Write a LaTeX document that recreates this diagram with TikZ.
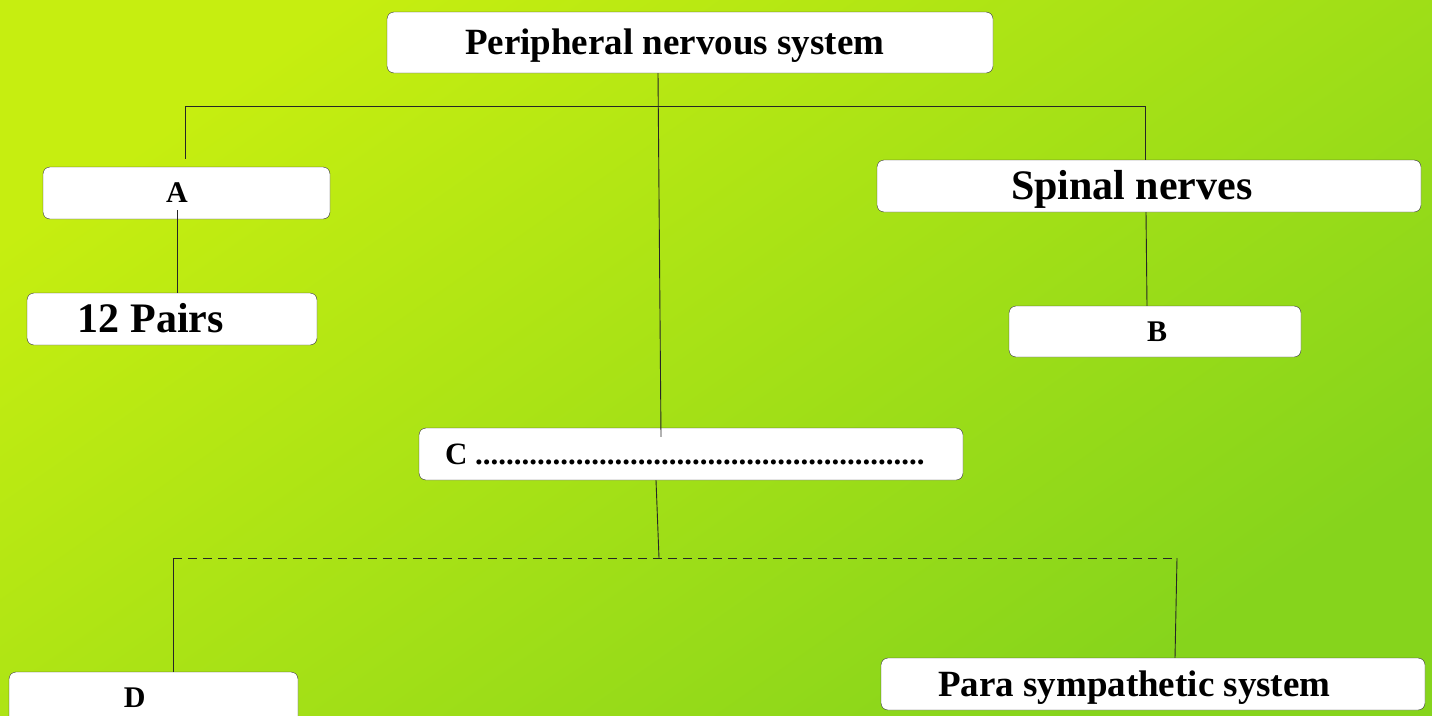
\documentclass[tikz,border=0pt]{standalone}
\usepackage{fontspec}
\setmainfont{Liberation Serif}
\usepackage{tikz}
\usepackage{xcolor}
\definecolor{bg-top}{RGB}{198,238,16}
\definecolor{bg-bottom}{RGB}{134,212,28}
\newcommand{\boxline}[3]{\makebox[#1][l]{\hspace*{#2}\raisebox{0pt}[0.66em][0pt]{#3}}}
\tikzset{
    nbox/.style = {draw=black!80, fill=white, thin, rectangle, rounded corners=7pt, inner sep=0pt},
    link/.style = {draw=black!85, line width=0.9pt},
    dash-link/.style = {link, dash pattern=on 9pt off 6pt},
}

\begin{document}
\begin{tikzpicture}[x=1pt, y=-1pt]
\shade[shading=axis, top color=bg-top, bottom color=bg-bottom, shading angle=35] (0,0) rectangle (1432,715);
\useasboundingbox (0,0) rectangle (1432,715);

% boxes
\node[nbox, minimum height=61pt, font=\bfseries\fontsize{37}{40}\selectfont] (pns) at (690,42.5) {\boxline{606pt}{78pt}{Peripheral nervous system}};
\node[nbox, minimum height=52pt, font=\bfseries\fontsize{30}{32}\selectfont] (a) at (186.5,193) {\boxline{287pt}{123pt}{A}};
\node[nbox, minimum height=52pt, font=\bfseries\fontsize{42}{44}\selectfont] (pairs) at (172,319) {\boxline{290pt}{51pt}{12 Pairs}};
\node[nbox, minimum height=52pt, font=\bfseries\fontsize{42}{44}\selectfont] (spinal) at (1149,186) {\boxline{544pt}{134pt}{Spinal nerves}};
\node[nbox, minimum height=51pt, font=\bfseries\fontsize{30}{32}\selectfont] (b) at (1155,331.5) {\boxline{292pt}{138pt}{B}};
\node[nbox, minimum height=52pt, font=\bfseries\fontsize{31}{33}\selectfont] (c) at (691,454) {\boxline{544pt}{26pt}{C ..........................................................}};
\node[nbox, minimum height=52pt, font=\bfseries\fontsize{30}{32}\selectfont] (d) at (153.5,698) {\boxline{289pt}{115pt}{D}};
\node[nbox, minimum height=52pt, font=\bfseries\fontsize{37}{40}\selectfont] (para) at (1153,684) {\boxline{544pt}{57pt}{Para sympathetic system}};

% junctions
\coordinate (top-l) at (185,106);
\coordinate (top-r) at (1145,106);
\coordinate (bot-l) at (173,558);
\coordinate (bot-m) at (659,558);
\coordinate (bot-r) at (1177,558);
\coordinate (a-in) at (177,210);

% connectors
\draw[link] (top-l) -- (top-r);
\draw[link, shorten >=8pt] (top-l) -- (top-l |- a.north);
\draw[link] (top-r) -- (top-r |- spinal.north);
\draw[link] ([xshift=-32pt]pns.south) -- ([xshift=-30pt, yshift=-9pt]c.north);
\draw[link] (a-in) -- (a-in |- pairs.north);
\draw[link] ([xshift=-3pt]spinal.south) -- ([xshift=-8pt]b.north);
\draw[link] ([xshift=-35pt]c.south) -- (bot-m);
\draw[dash-link] (bot-l) -- (bot-r);
\draw[link] (bot-l) -- (bot-l |- d.north);
\draw[link] (bot-r) -- ([xshift=22pt]para.north);
\end{tikzpicture}
\end{document}
